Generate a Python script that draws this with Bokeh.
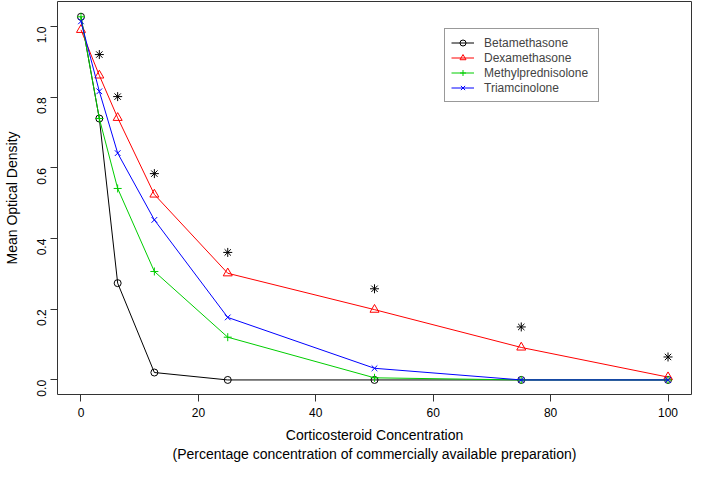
import math
from bokeh.plotting import figure
from bokeh.models import FixedTicker, Legend, LegendItem, NumeralTickFormatter, Range1d
from bokeh.embed import file_html
from bokeh.resources import INLINE

# ---- data ----
conc = [0, 3.125, 6.25, 12.5, 25, 50, 75, 100]
betamethasone = [1.028, 0.740, 0.274, 0.021, 0.0, 0.0, 0.0, 0.0]
dexamethasone = [0.991, 0.862, 0.742, 0.525, 0.302, 0.199, 0.092, 0.008]
methylprednisolone = [1.028, 0.740, 0.542, 0.307, 0.121, 0.006, 0.0, 0.0]
triamcinolone = [1.015, 0.817, 0.642, 0.453, 0.177, 0.033, 0.0, 0.0]
sig_conc = [3.125, 6.25, 12.5, 25, 50, 75, 100]
sig_y = [0.921, 0.802, 0.584, 0.361, 0.258, 0.150, 0.065]
x_ticks = [0, 20, 40, 60, 80, 100]
y_ticks = [0.0, 0.2, 0.4, 0.6, 0.8, 1.0]
names = ["Betamethasone", "Dexamethasone", "Methylprednisolone", "Triamcinolone"]
colors = ["#000000", "#FF0000", "#00CD00", "#0000FF"]
markers = ["circle", "triangle", "cross", "x"]

FONT = "Liberation Sans"

p = figure(width=692, height=464,
           x_range=Range1d(-4, 104), y_range=Range1d(-0.0412, 1.0712),
           output_backend="svg", toolbar_location=None,
           min_border_left=55, min_border_right=1, min_border_top=1,
           min_border_bottom=0)
p.xgrid.visible = False
p.ygrid.visible = False
p.outline_line_color = "#333333"
p.outline_line_width = 1
p.outline_line_alpha = 1

for ax in (p.xaxis[0], p.yaxis[0]):
    ax.axis_line_color = None
    ax.major_tick_out = 7
    ax.major_tick_in = 0
    ax.minor_tick_line_color = None
    ax.major_tick_line_color = "#333333"
    ax.major_label_text_font = FONT
    ax.major_label_text_font_size = "12px"
    ax.major_label_text_color = "black"
    ax.axis_label_text_font = FONT
    ax.axis_label_text_font_size = "14px"
    ax.axis_label_text_font_style = "normal"
    ax.axis_label_text_color = "black"

p.xaxis.ticker = FixedTicker(ticks=x_ticks)
p.yaxis.ticker = FixedTicker(ticks=y_ticks)
p.yaxis.formatter = NumeralTickFormatter(format="0.0")
p.yaxis.major_label_orientation = math.pi / 2
p.xaxis.major_label_standoff = 6
p.yaxis.major_label_standoff = 9
p.xaxis.axis_label_standoff = 7
p.yaxis.axis_label_standoff = 10
p.xaxis.axis_label = "Corticosteroid Concentration\n(Percentage concentration of commercially available preparation)"
p.yaxis.axis_label = "Mean Optical Density"
p.xaxis.axis_label_text_align = "center"

series = [betamethasone, dexamethasone, methylprednisolone, triamcinolone]
sizes = [7, 9, 8, 8]
items = []
for name, ys, col, mk, sz in zip(names, series, colors, markers, sizes):
    ln = p.line(conc, ys, line_color=col, line_width=1)
    sc = p.scatter(conc, ys, marker=mk, size=sz, line_color=col,
                   fill_color=None, line_width=1)
    items.append(LegendItem(label=name, renderers=[ln, sc]))

p.scatter(sig_conc, sig_y, marker="asterisk", size=9, line_color="black",
          line_width=1)

legend = Legend(items=items, location=(387, 292), padding=6, margin=0,
                spacing=0, label_height=15, glyph_height=15, glyph_width=23,
                label_standoff=10, label_width=108,
                label_text_font=FONT, label_text_font_size="12px",
                border_line_color="#333333", border_line_width=1,
                background_fill_color="white", background_fill_alpha=1)
p.add_layout(legend, "center")

open("out.html", "w").write(file_html(p, INLINE))
